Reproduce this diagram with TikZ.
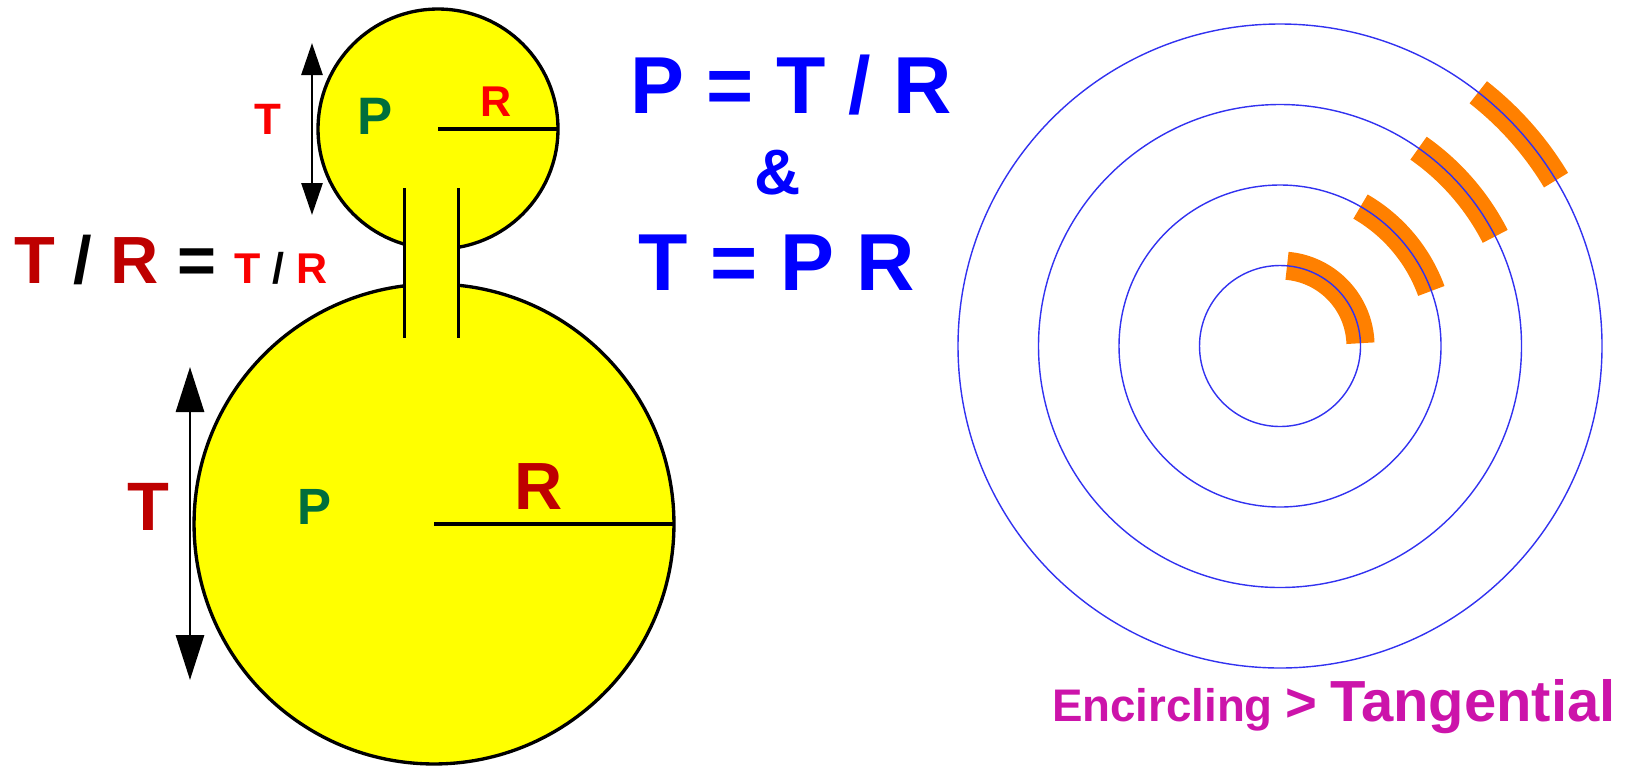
\documentclass[tikz,border=0pt]{standalone}
\usepackage{fontspec}
\setmainfont{Liberation Sans}
\usetikzlibrary{arrows.meta}
\definecolor{yel}{RGB}{255,255,0}
\definecolor{dred}{RGB}{190,0,0}
\definecolor{bred}{RGB}{250,0,0}
\definecolor{dgreen}{RGB}{0,110,60}
\definecolor{eqblue}{RGB}{0,0,255}
\definecolor{ringblue}{RGB}{50,50,240}
\definecolor{arcorange}{RGB}{255,128,0}
\definecolor{mag}{RGB}{204,20,170}
\newcommand{\fsz}[1]{\fontsize{#1}{#1}\selectfont}
\begin{document}
\begin{tikzpicture}[x=0.02cm,y=-0.02cm,
  outline/.style={circle,draw=black,line width=1.9pt,fill=yel,inner sep=0pt,outer sep=0pt},
  neckline/.style={black,line width=1.7pt},
  radline/.style={black,line width=2.8pt},
  dimsmall/.style={black,line width=1.6pt,{Triangle[width=0.42cm,length=0.64cm]}-{Triangle[width=0.42cm,length=0.64cm]}},
  dimbig/.style={black,line width=1.7pt,{Triangle[width=0.56cm,length=0.9cm]}-{Triangle[width=0.56cm,length=0.9cm]}},
  ring/.style={ringblue,line width=0.8pt},
  orangearc/.style={arcorange,line width=16pt,line cap=butt},
  lbl/.style={inner sep=0pt,outer sep=0pt}]
\useasboundingbox (0,0) rectangle (1631,765);

% bulbs
\node[outline,minimum size=4.8cm] (small) at (438,129) {};
\node[outline,minimum size=9.6cm] (big) at (434,524) {};
\fill[yel] (404,225) rectangle (458,305);
\coordinate (nlTop) at (404,188);
\coordinate (nlBot) at (404,338);
\coordinate (nrTop) at (458,188);
\coordinate (nrBot) at (458,338);
\draw[neckline] (nlTop) -- (nlBot);
\draw[neckline] (nrTop) -- (nrBot);
\draw[radline] (small.center) -- (small.east);
\draw[radline] (big.center) -- (big.east);

% dimension arrows
\coordinate (tsTop) at (312,43);
\coordinate (tsBot) at (312,215);
\draw[dimsmall] (tsTop) -- (tsBot);
\coordinate (tbTop) at (190,367);
\coordinate (tbBot) at (190,680);
\draw[dimbig] (tbTop) -- (tbBot);

% letters
\node[lbl,text=bred,font=\bfseries\fsz{25}] (tS) at (268,119) {T};
\node[lbl,text=dgreen,font=\bfseries\fsz{30}] (pS) at (375,116) {P};
\node[lbl,text=bred,font=\bfseries\fsz{24.5}] (rS) at (496,102) {R};
\node[lbl,text=dred,font=\bfseries\fsz{39}] (tB) at (148,507) {T};
\node[lbl,text=dgreen,font=\bfseries\fsz{29}] (pB) at (314,507) {P};
\node[lbl,text=dred,font=\bfseries\fsz{38}] (rB) at (539,487) {R};

\node[lbl,anchor=base west,text=dred,font=\bfseries\fsz{38}] (ratio) at (14,283)
  {T {\color{black}/} R {\color{black}=} {\fsz{24.5}\color{bred}T {\color{black}/} R}};

% equations
\node[lbl,anchor=base,text=eqblue,font=\bfseries\fsz{46}] (eqA) at (791,113) {P = T / R};
\node[lbl,anchor=base,text=eqblue,font=\bfseries\fsz{36.5}] (amp) at (778,194) {\&};
\node[lbl,anchor=base,text=eqblue,font=\bfseries\fsz{46}] (eqB) at (777,290) {T = P R};

% concentric rings
\coordinate (rc) at (1280,346);
\draw[orangearc] (rc) ++(-85:80.5) arc[start angle=-85,end angle=-2,radius=80.5];
\draw[orangearc] (rc) ++(-60:161) arc[start angle=-60,end angle=-20,radius=161];
\draw[orangearc] (rc) ++(-55:241.5) arc[start angle=-55,end angle=-27,radius=241.5];
\draw[orangearc] (rc) ++(-52:322) arc[start angle=-52,end angle=-31,radius=322];
\foreach \r in {80.5,161,241.5,322} \draw[ring] (rc) circle[radius=\r];

\node[lbl,anchor=base west,text=mag,font=\bfseries\fsz{26}] (cap) at (1052,721)
  {Encircling {\fsz{31}>} {\fsz{33}Tangential}};
\end{tikzpicture}
\end{document}
